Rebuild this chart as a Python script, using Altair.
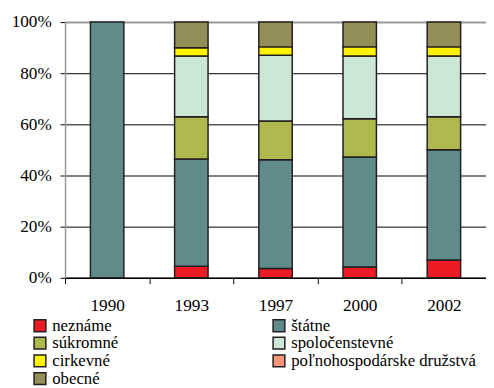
import altair as alt
import pandas as pd

years = ["1990", "1993", "1997", "2000", "2002"]
categories = ["neznáme", "štátne", "súkromné", "spoločenstevné", "cirkevné",
              "poľnohospodárske družstvá", "obecné"]
colors = ["#ED1C24", "#5F8C8A", "#AFB84C", "#CDE7D6", "#FFF200", "#F4967A", "#948E58"]
# legend order (filled column by column)
legend_order = ["neznáme", "súkromné", "cirkevné", "obecné",
                "štátne", "spoločenstevné", "poľnohospodárske družstvá"]

neznáme = [0, 4.5, 3.6, 4.2, 7.0]
štátne = [100, 42.0, 42.6, 43.0, 43.1]
súkromné = [0, 16.5, 15.1, 15.0, 12.9]
spoločenstevné = [0, 23.7, 25.7, 24.5, 23.7]
cirkevné = [0, 3.3, 3.3, 3.6, 3.6]
družstvá = [0, 0, 0, 0, 0]
obecné = [0, 10.0, 9.7, 9.7, 9.7]

series = [neznáme, štátne, súkromné, spoločenstevné, cirkevné, družstvá, obecné]
rows = []
for ci, (cat, vals) in enumerate(zip(categories, series)):
    for y, v in zip(years, vals):
        if v > 0:
            rows.append({"rok": y, "kat": cat, "v": v, "ord": ci})
df = pd.DataFrame(rows)

cmap = dict(zip(categories, colors))
FONT = "'Liberation Serif', 'Times New Roman', 'DejaVu Serif', serif"

chart = alt.Chart(df).mark_bar(
    size=34, stroke="#231f20", strokeWidth=1.5
).encode(
    x=alt.X("rok:N", sort=years, title=None,
            scale=alt.Scale(paddingInner=0, paddingOuter=0),
            axis=alt.Axis(labelAngle=0, tickBand="extent", tickSize=6,
                          labelPadding=13, domainColor="black", domainWidth=1.5,
                          tickColor="black", labelFontSize=17.5, labelFont=FONT,
                          labelColor="black", grid=False)),
    y=alt.Y("v:Q", stack="zero", title=None,
            scale=alt.Scale(domain=[0, 100], nice=False),
            axis=alt.Axis(values=[0, 20, 40, 60, 80, 100],
                          labelExpr="datum.value + '%'",
                          tickSize=5, labelPadding=9, tickColor="black",
                          domainColor="#999999", domainWidth=1.5,
                          labelFontSize=17.5, labelFont=FONT, labelColor="black",
                          grid=True,
                          gridColor={"condition": {"test": "datum.value === 100", "value": "#999999"}, "value": "#000000"},
                          gridWidth={"condition": {"test": "datum.value === 100", "value": 2}, "value": 1},
                          gridOpacity=1)),
    color=alt.Color("kat:N",
                    scale=alt.Scale(domain=legend_order, range=[cmap[c] for c in legend_order]),
                    legend=alt.Legend(orient="none", legendX=-34, legendY=300,
                                      columns=2, columnPadding=153, title=None,
                                      symbolType="square", symbolSize=144,
                                      symbolStrokeColor="#231f20", symbolStrokeWidth=1.5,
                                      symbolOpacity=1, labelFontSize=17, labelFont=FONT,
                                      labelColor="black", labelOffset=4, rowPadding=-2,
                                      labelLimit=400)),
    order=alt.Order("ord:Q", sort="ascending"),
).properties(
    width=428, height=260,
    autosize=alt.AutoSizeParams(type="none"),
    padding={"left": 58, "top": 11, "right": 0, "bottom": 125},
).configure_view(stroke=None)

chart.save("out.html", embed_options={"renderer": "svg", "actions": False})
